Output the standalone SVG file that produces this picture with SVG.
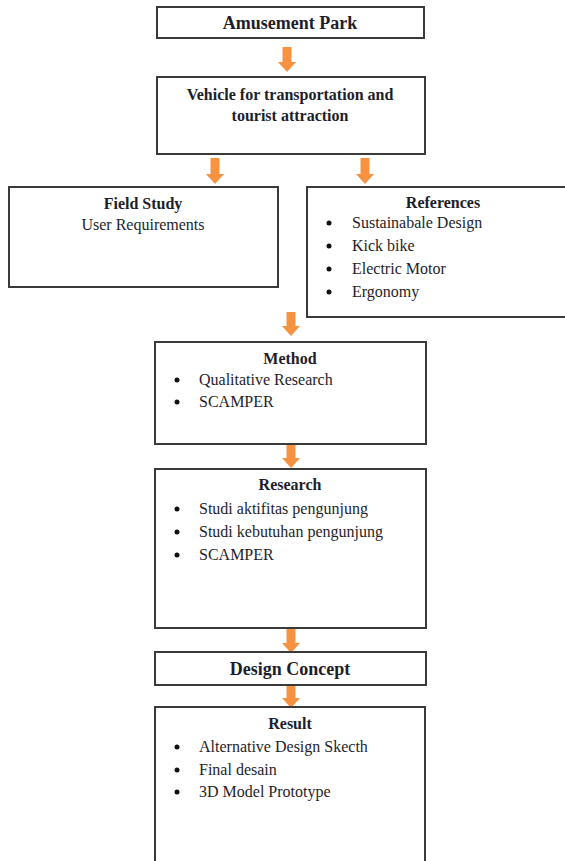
<svg xmlns="http://www.w3.org/2000/svg" width="565" height="861" viewBox="0 0 565 861">
  <style>
    .box { fill: #ffffff; stroke: #3a3a3a; stroke-width: 2; }
    .arrow { fill: #F79240; stroke: none; }
    .title { font-family: "Liberation Serif", "Times New Roman", serif; font-weight: bold; font-size: 16px; fill: #1e1e2a; text-anchor: middle; }
    .big { font-size: 18px; }
    .item { font-family: "Liberation Serif", "Times New Roman", serif; font-size: 16px; fill: #1e1e2a; }
    .center { text-anchor: middle; }
    .bullet { fill: #111111; }
  </style>
  <rect x="0" y="0" width="565" height="861" fill="#ffffff"/>

  <g id="connectors">
    <polygon class="arrow" points="282.5,47 291.5,47 291.5,62 296,62 287,72 278,62 282.5,62"/>
    <polygon class="arrow" points="210.5,158 219.5,158 219.5,174 224,174 215,184 206,174 210.5,174"/>
    <polygon class="arrow" points="360.5,158 369.5,158 369.5,174 374,174 365,184 356,174 360.5,174"/>
    <polygon class="arrow" points="286.5,312 295.5,312 295.5,326 300,326 291,336 282,326 286.5,326"/>
    <polygon class="arrow" points="286.5,444 295.5,444 295.5,458 300,458 291,468 282,458 286.5,458"/>
    <polygon class="arrow" points="286.5,629 295.5,629 295.5,643 300,643 291,653 282,643 286.5,643"/>
    <polygon class="arrow" points="286.5,686 295.5,686 295.5,698 300,698 291,708 282,698 286.5,698"/>
  </g>

  <g id="amusement-park">
    <rect class="box" x="157" y="7" width="267" height="31"/>
    <text class="title big" x="290" y="29">Amusement Park</text>
  </g>

  <g id="vehicle">
    <rect class="box" x="157" y="77" width="268" height="77"/>
    <text class="title" x="290" y="100">Vehicle for transportation and</text>
    <text class="title" x="290" y="121">tourist attraction</text>
  </g>

  <g id="field-study">
    <rect class="box" x="9" y="187" width="269" height="100"/>
    <text class="title" x="143" y="209">Field Study</text>
    <text class="item center" x="143" y="230">User Requirements</text>
  </g>

  <g id="references">
    <rect class="box" x="307" y="187" width="262" height="130"/>
    <text class="title" x="443" y="208">References</text>
    <circle class="bullet" cx="329" cy="223" r="2.5"/>
    <text class="item" x="352" y="228">Sustainabale Design</text>
    <circle class="bullet" cx="329" cy="246" r="2.5"/>
    <text class="item" x="352" y="251">Kick bike</text>
    <circle class="bullet" cx="329" cy="269" r="2.5"/>
    <text class="item" x="352" y="274">Electric Motor</text>
    <circle class="bullet" cx="329" cy="292" r="2.5"/>
    <text class="item" x="352" y="297">Ergonomy</text>
  </g>

  <g id="method">
    <rect class="box" x="155" y="342" width="271" height="102"/>
    <text class="title" x="290" y="364">Method</text>
    <circle class="bullet" cx="177" cy="380" r="2.5"/>
    <text class="item" x="199" y="385">Qualitative Research</text>
    <circle class="bullet" cx="177" cy="402" r="2.5"/>
    <text class="item" x="199" y="407">SCAMPER</text>
  </g>

  <g id="research">
    <rect class="box" x="155" y="469" width="271" height="159"/>
    <text class="title" x="290" y="490">Research</text>
    <circle class="bullet" cx="177" cy="509" r="2.5"/>
    <text class="item" x="199" y="514">Studi aktifitas pengunjung</text>
    <circle class="bullet" cx="177" cy="532" r="2.5"/>
    <text class="item" x="199" y="537">Studi kebutuhan pengunjung</text>
    <circle class="bullet" cx="177" cy="555" r="2.5"/>
    <text class="item" x="199" y="560">SCAMPER</text>
  </g>

  <g id="design-concept">
    <rect class="box" x="155" y="652" width="271" height="33"/>
    <text class="title big" x="290" y="675">Design Concept</text>
  </g>

  <g id="result">
    <rect class="box" x="155" y="707" width="270" height="160"/>
    <text class="title" x="290" y="729">Result</text>
    <circle class="bullet" cx="177" cy="747" r="2.5"/>
    <text class="item" x="199" y="752">Alternative Design Skecth</text>
    <circle class="bullet" cx="177" cy="770" r="2.5"/>
    <text class="item" x="199" y="775">Final desain</text>
    <circle class="bullet" cx="177" cy="792" r="2.5"/>
    <text class="item" x="199" y="797">3D Model Prototype</text>
  </g>
</svg>
